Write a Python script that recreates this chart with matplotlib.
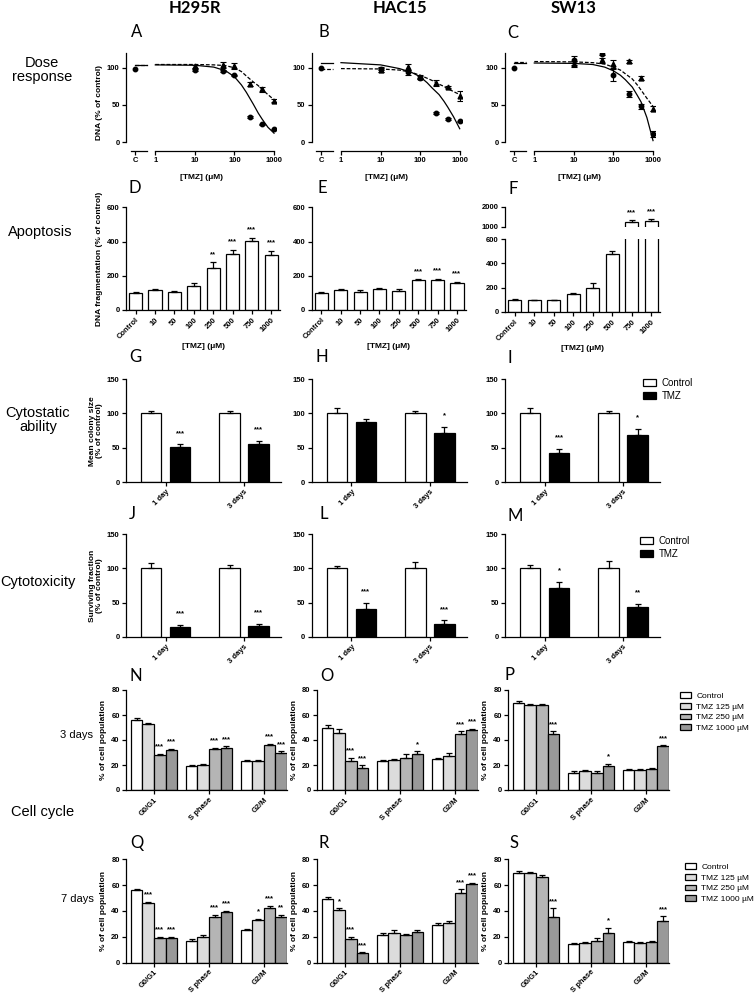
import numpy as np
import matplotlib
matplotlib.use('Agg')
import matplotlib.pyplot as plt
from matplotlib.patches import Patch

plt.rcParams['font.family'] = ['Liberation Sans', 'DejaVu Sans']
plt.rcParams['font.weight'] = 'bold'
plt.rcParams['axes.labelweight'] = 'bold'

# ---------------- data ----------------
# dose response (A-C): circles = solid fit, triangles = dashed fit
dose_conc = [10, 50, 100, 250, 500, 1000]
curve_conc = [1, 10, 30, 60, 100, 150, 200, 300, 400, 500, 700, 1000]
dose_ticks = ['C', '1', '10', '100', '1000']

h295_ctrl = 98
h295_circ = [97, 96, 90, 34, 24, 17]
h295_circ_err = [1, 1, 1, 1, 1, 1]
h295_tri = [102, 104, 103, 78, 71, 56]
h295_tri_err = [2, 4, 4, 3, 3, 2]
h295_fit_circ = [104, 103.5, 101, 96, 88, 77, 67, 51, 39, 31, 20, 12]
h295_fit_tri = [104.5, 104.5, 104, 103, 100, 95, 89, 81, 76, 71, 64, 57]

hac15_ctrl = 100
hac15_circ = [99, 94, 87, 39, 31, 28]
hac15_circ_err = [2, 3, 2, 1, 1, 1]
hac15_tri = [97, 101, 88, 79, 74, 62]
hac15_tri_err = [3, 4, 2, 4, 1, 7]
hac15_fit_circ = [107, 104, 99, 94, 88, 80, 73, 64, 55, 47, 34, 18]
hac15_fit_tri = [99, 98.5, 97, 94, 90, 86, 83, 78, 75, 72, 68, 64]

sw13_ctrl = 100
sw13_circ = [110, 119, 90, 65, 48, 11]
sw13_circ_err = [6, 2, 8, 4, 3, 4]
sw13_tri = [105, 110, 105, 109, 86, 45]
sw13_tri_err = [4, 3, 5, 2, 3, 3]
sw13_fit_circ = [106.5, 106, 104.5, 101, 96, 90, 84, 74, 63, 54, 33, 2]
sw13_fit_tri = [108.5, 108, 107, 105, 101, 97, 92, 85, 77, 70, 59, 48]

# apoptosis (D-F)
apo_labels = ['Control', '10', '50', '100', '250', '500', '750', '1000']
h295_apo = [100, 115, 105, 140, 245, 328, 405, 322]
h295_apo_err = [8, 6, 4, 15, 33, 25, 18, 25]
h295_apo_sig = ['', '', '', '', '**', '***', '***', '***']
hac15_apo = [100, 115, 108, 125, 113, 175, 178, 158]
hac15_apo_err = [5, 8, 8, 6, 8, 5, 5, 6]
hac15_apo_sig = ['', '', '', '', '', '***', '***', '***']
sw13_apo = [100, 95, 95, 145, 195, 480, 1250, 1290]
sw13_apo_err = [6, 5, 4, 12, 40, 25, 80, 120]
sw13_apo_sig = ['', '', '', '', '', '', '***', '***']

# colony size (G-I) and surviving fraction (J-M)
days = ['1 day', '3 days']
h295_col_ctrl, h295_col_ctrl_err = [100, 100], [3, 3]
h295_col_tmz, h295_col_tmz_err = [51, 55], [4, 5]
h295_col_sig = ['***', '***']
hac15_col_ctrl, hac15_col_ctrl_err = [101, 101], [7, 3]
hac15_col_tmz, hac15_col_tmz_err = [87, 72], [5, 9]
hac15_col_sig = ['', '*']
sw13_col_ctrl, sw13_col_ctrl_err = [100, 100], [8, 3]
sw13_col_tmz, sw13_col_tmz_err = [43, 69], [5, 9]
sw13_col_sig = ['***', '*']

h295_surv_ctrl, h295_surv_ctrl_err = [100, 100], [8, 5]
h295_surv_tmz, h295_surv_tmz_err = [14, 15], [3, 4]
h295_surv_sig = ['***', '***']
hac15_surv_ctrl, hac15_surv_ctrl_err = [100, 100], [3, 10]
hac15_surv_tmz, hac15_surv_tmz_err = [41, 19], [9, 5]
hac15_surv_sig = ['***', '***']
sw13_surv_ctrl, sw13_surv_ctrl_err = [100, 100], [5, 11]
sw13_surv_tmz, sw13_surv_tmz_err = [71, 43], [9, 5]
sw13_surv_sig = ['*', '**']

# cell cycle (N-S): rows = dose, columns = phase
phases = ['G0/G1', 'S phase', 'G2/M']
doses = ['Control', 'TMZ 125 µM', 'TMZ 250 µM', 'TMZ 1000 µM']

h295_3d = [[56, 19, 23], [53, 20, 23], [28, 33, 36], [32, 34, 30]]
h295_3d_err = [[2, 1, 1], [1, 1, 1], [1, 1, 1], [1, 1, 1]]
h295_3d_sig = [['', '', ''], ['', '', ''], ['***', '***', '***'], ['***', '***', '***']]
hac15_3d = [[50, 23, 25], [46, 24, 27], [23, 26, 45], [18, 29, 48]]
hac15_3d_err = [[2, 1, 1], [3, 1, 3], [3, 3, 2], [2, 2, 1]]
hac15_3d_sig = [['', '', ''], ['', '', ''], ['***', '', '***'], ['***', '*', '***']]
sw13_3d = [[70, 14, 16], [68, 15, 16], [68, 14, 17], [45, 19, 35]]
sw13_3d_err = [[1, 1, 1], [1, 1, 1], [1, 1, 1], [2, 2, 1]]
sw13_3d_sig = [['', '', ''], ['', '', ''], ['', '', ''], ['***', '*', '***']]

h295_7d = [[56, 17, 25], [46, 20, 33], [19, 35, 42], [19, 39, 35]]
h295_7d_err = [[1, 1, 1], [1, 1, 1], [1, 2, 2], [1, 1, 2]]
h295_7d_sig = [['', '', ''], ['***', '', '*'], ['***', '***', '***'], ['***', '***', '**']]
hac15_7d = [[49, 21, 29], [41, 23, 31], [18, 21, 54], [7, 24, 61]]
hac15_7d_err = [[2, 2, 2], [1, 2, 1], [2, 1, 3], [1, 1, 1]]
hac15_7d_sig = [['', '', ''], ['*', '', ''], ['***', '', '***'], ['***', '', '***']]
sw13_7d = [[69, 14, 16], [69, 15, 15], [66, 17, 16], [35, 23, 32]]
sw13_7d_err = [[2, 1, 1], [1, 1, 1], [2, 2, 1], [7, 4, 4]]
sw13_7d_sig = [['', '', ''], ['', '', ''], ['', '', ''], ['***', '*', '***']]

# ---------------- figure ----------------
W, H = 755, 993
fig = plt.figure(figsize=(W / 100, H / 100), dpi=100)


def add_ax(x0, x1, ytop, ybot):
    # positions given in pixels of the final image
    return fig.add_axes([x0 / W, 1 - ybot / H, (x1 - x0) / W, (ybot - ytop) / H])


def tidy(ax):
    ax.spines['top'].set_visible(False)
    ax.spines['right'].set_visible(False)
    for s in ('left', 'bottom'):
        ax.spines[s].set_linewidth(0.9)
    ax.tick_params(width=0.9, length=3, labelsize=5.5, pad=1.5)


def bars_with_err(ax, x, vals, err, width, color):
    ax.bar(x, vals, width, color=color, edgecolor='k', linewidth=0.9, zorder=2)
    ax.errorbar(x, vals, yerr=[np.zeros(len(vals)), err], fmt='none', ecolor='k',
                elinewidth=0.9, capsize=2.5, capthick=0.9, zorder=3)


def stars(ax, x, vals, err, sig, off):
    for xi, v, e, s in zip(x, vals, err, sig):
        if s:
            ax.text(xi, v + e + off, s, ha='center', va='bottom', fontsize=5.5)


def dose_panel(x0, ctrl, circ, circ_err, tri, tri_err, fit_circ, fit_tri, ylabel=False):
    ax = add_ax(x0, x0 + 150, 53, 151)
    tidy(ax)
    xd = np.log10(dose_conc)
    xf = np.log10(curve_conc)
    dash = (0, (3, 1.5))
    ax.plot(xf, fit_circ, color='k', lw=0.9)
    ax.plot(xf, fit_tri, color='k', lw=0.9, ls=dash)
    ax.plot([-0.5, -0.2], [fit_circ[0]] * 2, color='k', lw=0.9)
    ax.plot([-0.5, -0.2], [fit_tri[0]] * 2, color='k', lw=0.9, ls=dash)
    ax.errorbar(xd, tri, yerr=tri_err, fmt='^', ms=3.5, color='k',
                elinewidth=0.8, capsize=2, capthick=0.8)
    ax.errorbar(xd, circ, yerr=circ_err, fmt='o', ms=3.2, color='k',
                elinewidth=0.8, capsize=2, capthick=0.8)
    ax.plot([-0.5], [ctrl], 'o', ms=3.2, color='k')
    ax.set_xlim(-0.74, 3.05)
    ax.set_ylim(-12, 120)
    ax.spines['left'].set_bounds(0, 120)
    ax.spines['bottom'].set_bounds(0, 3)
    ax.plot([-0.62, -0.2], [-12, -12], color='k', lw=0.9, clip_on=False)
    ax.set_yticks([0, 50, 100])
    ax.set_xticks([-0.5, 0, 1, 2, 3])
    ax.set_xticklabels(dose_ticks)
    ax.set_xlabel('[TMZ] (μM)', fontsize=6, labelpad=7)
    if ylabel:
        ax.set_ylabel('DNA (% of control)', fontsize=6, labelpad=3)
    return ax


def apo_axis_common(ax):
    x = np.arange(len(apo_labels))
    ax.set_xlim(-0.5, 7.45)
    ax.set_xticks(x)
    ax.set_xticklabels(apo_labels, rotation=45, ha='right', rotation_mode='anchor')
    ax.set_xlabel('[TMZ] (μM)', fontsize=6, labelpad=2)
    return x


def apo_panel(x0, vals, err, sig, ylabel=False):
    ax = add_ax(x0, x0 + 154, 207.3, 310)
    tidy(ax)
    x = apo_axis_common(ax)
    bars_with_err(ax, x, vals, err, 0.68, 'white')
    stars(ax, x, vals, err, sig, 25)
    ax.set_ylim(0, 600)
    ax.set_yticks([0, 200, 400, 600])
    if ylabel:
        ax.set_ylabel('DNA fragmentation (% of control)', fontsize=6, labelpad=3)
    return ax


def apo_broken_panel(x0, vals, err, sig):
    lo = add_ax(x0, x0 + 155, 239.3, 311.7)
    hi = add_ax(x0, x0 + 155, 206.7, 226.7)
    for ax in (lo, hi):
        tidy(ax)
    x = apo_axis_common(lo)
    hi.set_xlim(lo.get_xlim())
    for ax in (lo, hi):
        bars_with_err(ax, x, vals, err, 0.68, 'white')
    lo.set_ylim(0, 600)
    lo.set_yticks([0, 200, 400, 600])
    hi.set_ylim(1000, 2000)
    hi.set_yticks([1000, 2000])
    hi.spines['bottom'].set_visible(False)
    hi.tick_params(bottom=False, labelbottom=False)
    stars(hi, x, vals, err, sig, 170)
    return lo, hi


def pair_panel(x0, ytop, ybot, ctrl, ctrl_err, tmz, tmz_err, sig, ylabel=None):
    ax = add_ax(x0, x0 + 155, ytop, ybot)
    tidy(ax)
    x = np.arange(len(days))
    bars_with_err(ax, x - 0.185, ctrl, ctrl_err, 0.26, 'white')
    bars_with_err(ax, x + 0.185, tmz, tmz_err, 0.26, 'black')
    stars(ax, x + 0.185, tmz, tmz_err, sig, 11)
    ax.set_xlim(-0.506, 1.47)
    ax.set_ylim(0, 150)
    ax.set_yticks([0, 50, 100, 150])
    ax.set_xticks(x)
    ax.set_xticklabels(days, rotation=45, ha='right', rotation_mode='anchor')
    if ylabel:
        ax.set_ylabel(ylabel, fontsize=6, linespacing=1.0, labelpad=3)
    return ax


cycle_colors = ['white', '#dcdcdc', '#b5b5b5', '#999999']


def cycle_panel(x0, ytop, ybot, vals, errs, sigs):
    ax = add_ax(x0, x0 + 161, ytop, ybot)
    tidy(ax)
    x = np.arange(len(phases))
    bw = 0.21
    for i in range(len(doses)):
        xi = x + (i - 1.5) * bw
        bars_with_err(ax, xi, vals[i], errs[i], bw, cycle_colors[i])
        stars(ax, xi, vals[i], errs[i], sigs[i], 2.5)
    ax.set_xlim(-0.51, 2.42)
    ax.set_ylim(0, 80)
    ax.set_yticks([0, 20, 40, 60, 80])
    ax.set_xticks(x)
    ax.set_xticklabels(phases, rotation=45, ha='right', rotation_mode='anchor')
    ax.set_ylabel('% of cell population', fontsize=6, labelpad=3)
    return ax


def box_legend(labels, colors, x, y, size, spacing):
    handles = [Patch(facecolor=c, edgecolor='k', linewidth=0.9) for c in colors]
    fig.legend(handles, labels, loc='upper left', bbox_to_anchor=(x / W, 1 - y / H),
               frameon=False, borderpad=0, borderaxespad=0, handlelength=1.35,
               handleheight=0.7, handletextpad=0.6, labelspacing=spacing,
               prop={'size': size, 'weight': 'normal'})


# row A-C
dose_panel(126, h295_ctrl, h295_circ, h295_circ_err, h295_tri, h295_tri_err,
           h295_fit_circ, h295_fit_tri, ylabel=True)
dose_panel(311.7, hac15_ctrl, hac15_circ, hac15_circ_err, hac15_tri, hac15_tri_err,
           hac15_fit_circ, hac15_fit_tri)
dose_panel(505, sw13_ctrl, sw13_circ, sw13_circ_err, sw13_tri, sw13_tri_err,
           sw13_fit_circ, sw13_fit_tri)

# row D-F
apo_panel(126, h295_apo, h295_apo_err, h295_apo_sig, ylabel=True)
apo_panel(311.7, hac15_apo, hac15_apo_err, hac15_apo_sig)
apo_broken_panel(505, sw13_apo, sw13_apo_err, sw13_apo_sig)

# row G-I
pair_panel(126, 379, 482.3, h295_col_ctrl, h295_col_ctrl_err, h295_col_tmz,
           h295_col_tmz_err, h295_col_sig, ylabel='Mean colony size\n(% of control)')
pair_panel(311.7, 379, 482.3, hac15_col_ctrl, hac15_col_ctrl_err, hac15_col_tmz,
           hac15_col_tmz_err, hac15_col_sig)
pair_panel(505, 379, 482.3, sw13_col_ctrl, sw13_col_ctrl_err, sw13_col_tmz,
           sw13_col_tmz_err, sw13_col_sig)

# row J-M
pair_panel(126, 534.3, 636.7, h295_surv_ctrl, h295_surv_ctrl_err, h295_surv_tmz,
           h295_surv_tmz_err, h295_surv_sig, ylabel='Surviving fraction\n(% of control)')
pair_panel(311.7, 534.3, 636.7, hac15_surv_ctrl, hac15_surv_ctrl_err, hac15_surv_tmz,
           hac15_surv_tmz_err, hac15_surv_sig)
pair_panel(505, 534.3, 636.7, sw13_surv_ctrl, sw13_surv_ctrl_err, sw13_surv_tmz,
           sw13_surv_tmz_err, sw13_surv_sig)

# rows N-P and Q-S
cycle_panel(126, 690, 790, h295_3d, h295_3d_err, h295_3d_sig)
cycle_panel(317, 690, 790, hac15_3d, hac15_3d_err, hac15_3d_sig)
cycle_panel(508, 690, 790, sw13_3d, sw13_3d_err, sw13_3d_sig)
cycle_panel(126, 859.3, 962.5, h295_7d, h295_7d_err, h295_7d_sig)
cycle_panel(317, 859.3, 962.5, hac15_7d, hac15_7d_err, hac15_7d_sig)
cycle_panel(508, 859.3, 962.5, sw13_7d, sw13_7d_err, sw13_7d_sig)

# legends
box_legend(['Control', 'TMZ'], ['white', 'black'], 643, 378, 7, 0.3)
box_legend(['Control', 'TMZ'], ['white', 'black'], 640, 536, 7, 0.3)
box_legend(doses, cycle_colors, 680, 692, 6, 0.35)
box_legend(doses, cycle_colors, 685, 863, 6, 0.35)

# column headers
for name, xc in (('H295R', 195), ('HAC15', 400), ('SW13', 574)):
    fig.text(xc / W, 1 - 8 / H, name, ha='center', va='center', fontsize=12,
             family='Lato', weight='bold')

# panel letters
letters = [('A', 137, 32), ('B', 324, 32), ('C', 513, 33),
           ('D', 135, 188), ('E', 322, 188), ('F', 513, 189),
           ('G', 135, 357), ('H', 322, 357), ('I', 510, 358),
           ('J', 132, 514), ('L', 324, 514), ('M', 515, 516),
           ('N', 136, 676), ('O', 327, 676), ('P', 510, 675),
           ('Q', 137, 843), ('R', 324, 843), ('S', 514, 843)]
for t, xc, yc in letters:
    fig.text(xc / W, 1 - yc / H, t, ha='center', va='center', fontsize=12,
             family='Lato', weight='normal')

# row labels
rows = [('Dose\nresponse', 42, 70, 10.5), ('Apoptosis', 40, 232, 10.5),
        ('Cytostatic\nability', 38, 420, 10.5), ('Cytotoxicity', 38, 582, 10.5),
        ('3 days', 76, 735, 8), ('Cell cycle', 43, 812, 10.5), ('7 days', 77, 899, 8)]
for t, xc, yc, fs in rows:
    fig.text(xc / W, 1 - yc / H, t, ha='center', va='center', fontsize=fs,
             weight='normal', linespacing=1.05)

fig.savefig('out.png', dpi=100)
